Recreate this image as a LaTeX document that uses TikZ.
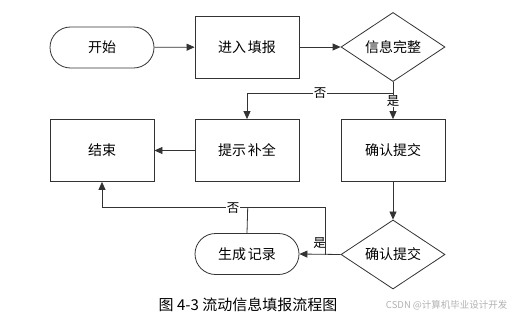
\documentclass[tikz,border=0pt]{standalone}
\usepackage{fontspec}
\setmainfont{Noto Sans CJK SC}
\newfontfamily\cjk{Noto Sans CJK SC}
\usetikzlibrary{shapes.geometric,arrows.meta}
\tikzset{
  every node/.style={font=\cjk\fontsize{14}{16}\selectfont},
  box/.style={draw=black!80, line width=0.8pt, minimum width=104pt, minimum height=62pt, inner sep=0pt},
  term/.style={draw=black!80, line width=0.8pt, minimum width=104pt, minimum height=41pt, rounded corners=20.5pt, inner sep=0pt},
  dec/.style={draw=black!80, line width=0.8pt, diamond, minimum width=104pt, minimum height=62pt, inner sep=0pt},
  conn/.style={draw=black!80, line width=0.8pt},
  arr/.style={conn, -{Triangle[length=8pt,width=7pt]}},
  lbl/.style={fill=white, inner sep=0.5pt, font=\cjk\fontsize{12.5}{13}\selectfont},
}
\begin{document}
\begin{tikzpicture}[x=1pt,y=-1pt]
\useasboundingbox (0,0) rectangle (513,318);
\node[term] (start) at (102,47.5) {开始};
\node[box] (fill) at (247,47) {进入\hspace{2pt}填报};
\node[dec] (chk) at (393,47) {信息完整};
\node[box] (end) at (102,150.5) {结束};
\node[box] (hint) at (247,150.5) {提示\hspace{2pt}补全};
\node[box] (confirm) at (393,150.5) {确认提交};
\node[dec] (chk2) at (393,254.5) {确认提交};
\node[term] (rec) at (247,254) {生成\hspace{2pt}记录};
\coordinate (j1) at (393,93.5);
\coordinate (j2) at (325.7,254.5);
\coordinate (j3) at (325.7,207.7);
\coordinate (j4) at (247.7,207.7);
\coordinate (j5) at (102,207.7);
\draw[arr] (start) -- (fill);
\draw[arr] (fill) -- (chk);
\draw[conn] (chk.south) -- (j1);
\draw[arr] (j1) -- node[lbl, pos=0.5] {否} (247,93.5) -- (hint.north);
\draw[arr] (j1) -- node[lbl, pos=0.28] {是} (confirm.north);
\draw[arr] (hint.west) -- (end.east);
\draw[arr] (confirm.south) -- (chk2.north);
\draw[arr] (chk2.west) -- (rec.east);
\draw[conn] (j2) -- (j3) -- (j4);
\draw[conn] (rec.north) -- (j4);
\draw[arr] (j4) -- node[lbl, pos=0.1] {否} (j5) -- (end.south);
\node[lbl, fill=none] (yes2) at (319.5,243.5) {是};
\node (cap) at (248,305) {\fontsize{15}{17}\selectfont 图 4-3 流动信息填报流程图};
\node[text=black!30, anchor=east] (wm) at (511,305) {\fontsize{9.5}{10}\selectfont CSDN @计算机毕业设计开发};
\end{tikzpicture}
\end{document}
